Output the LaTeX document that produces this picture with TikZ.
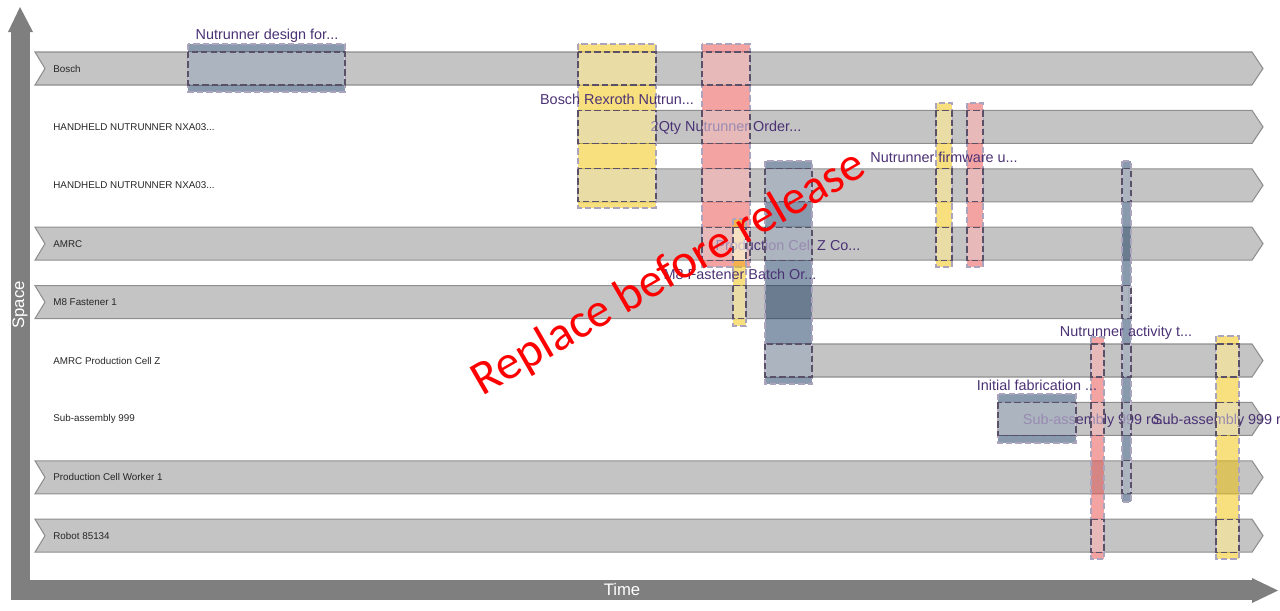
\documentclass[tikz,border=0pt]{standalone}
\usepackage{fontspec}
\setmainfont{Liberation Sans}
\newfontfamily\markfont{Carlito}
\usepackage{xcolor}
\usepackage{tikz}
\usetikzlibrary{positioning}
\definecolor{laneFill}{HTML}{C4C4C4}
\definecolor{laneEdge}{HTML}{8E8E8E}
\definecolor{axisGrey}{HTML}{7F7F7F}
\definecolor{evBlue}{HTML}{15355D}
\definecolor{evYellow}{HTML}{F3C100}
\definecolor{evRed}{HTML}{E94747}
\definecolor{evText}{HTML}{4B3275}
\definecolor{segDash}{HTML}{5A5068}
\definecolor{boxDash}{HTML}{ACA4BC}
\tikzset{
  laneBar/.style={
    fill=laneFill, draw=laneEdge, line width=0.6pt,
  },
  laneLabel/.style={
    anchor=west, inner sep=0pt, text=black!85,
    font=\fontsize{5.6}{6}\selectfont,
  },
  eventBox/.style={
    fill=#1, fill opacity=0.5, draw=boxDash, line width=0.7pt,
    dash pattern=on 3.6pt off 1.8pt,
  },
  laneSeg/.style={
    fill=white, fill opacity=0.43, draw=segDash, line width=0.7pt,
    dash pattern=on 3.6pt off 1.8pt,
  },
  eventLabel/.style={
    inner sep=0pt, text=evText, font=\fontsize{8.2}{9}\selectfont,
  },
  axisLabel/.style={
    inner sep=0pt, text=white, font=\fontsize{9.5}{10}\selectfont,
  },
}
% x1, x2, y1, y2, colour
\newcommand{\evBox}[5]{\draw[eventBox=#5] (#1,#3) rectangle (#2,#4);}
% x1, x2, lane
\newcommand{\evSeg}[3]{\draw[laneSeg] (#1,{52+58.4*#3}) rectangle (#2,{85+58.4*#3});}
\newcommand{\handheldName}{HANDHELD NUTRUNNER NXA03...}

\begin{document}
\begin{tikzpicture}[x=0.02cm, y=-0.02cm]
\useasboundingbox (0,0) rectangle (1280,610);

% axes
\fill[axisGrey] (11,30) rectangle (30,600);
\fill[axisGrey] (8,32) -- (20,7) -- (33,32) -- cycle;
\fill[axisGrey] (11,580) rectangle (1252,600);
\fill[axisGrey] (1252,578) -- (1278,590.5) -- (1252,603) -- cycle;
\node[axisLabel, rotate=90] (spaceLbl) at (20,305) {Space};
\node[axisLabel] (timeLbl) at (622,590) {Time};

% lanes: lane / start / end / notch / tip
\foreach \i/\xs/\xe/\notch/\tip in {0/35/1252/10/11, 1/578/1252/0/11,
    2/578/1252/0/11, 3/35/1252/10/11, 4/35/1129/10/0, 5/765/1252/0/11,
    6/998/1252/0/11, 7/35/1252/10/11, 8/35/1252/10/11} {
  \pgfmathsetmacro{\yt}{52+58.4*\i}
  \pgfmathsetmacro{\yb}{\yt+33}
  \pgfmathsetmacro{\ym}{\yt+16.5}
  \draw[laneBar] (\xs,\yt) -- (\xe,\yt) -- (\xe+\tip,\ym) -- (\xe,\yb)
    -- (\xs,\yb) -- (\xs+\notch,\ym) -- cycle;
}
\foreach \i/\txt in {0/Bosch, 1/\handheldName, 2/\handheldName, 3/AMRC,
    4/M8 Fastener 1, 5/AMRC Production Cell Z, 6/Sub-assembly 999,
    7/Production Cell Worker 1, 8/Robot 85134}
  \node[laneLabel] (lane\i) at (53,{68.5+58.4*\i}) {\txt};

% events
\evBox{188}{345}{44}{92}{evBlue}
\evBox{578}{656}{44}{208}{evYellow}
\evBox{702}{750}{44}{267}{evRed}
\evBox{765}{812}{161}{384}{evBlue}
\evBox{733}{746}{219}{326}{evYellow}
\evBox{936}{952}{103}{267}{evYellow}
\evBox{967}{983}{103}{267}{evRed}
\evBox{1122}{1131}{161}{502}{evBlue}
\evBox{1091}{1104}{337}{559}{evRed}
\evBox{998}{1076}{394}{443}{evBlue}
\evBox{1216}{1239}{336}{559}{evYellow}

\node[eventLabel] (evDesign) at (267,36) {Nutrunner design for...};
\node[eventLabel] (evRexroth) at (617,99) {Bosch Rexroth Nutrun...};
\node[eventLabel] (evOrder) at (726,128) {2Qty Nutrunner Order...};
\node[eventLabel] (evFirmware) at (944,157) {Nutrunner firmware u...};
\node[eventLabel] (evCell) at (788,245) {Production Cell Z Co...};
\node[eventLabel] (evBatch) at (740,274) {M8 Fastener Batch Or...};
\node[eventLabel] (evActivity) at (1126,333) {Nutrunner activity t...};
\node[eventLabel] (evFab) at (1037,385) {Initial fabrication ...};
\node[eventLabel] (evSubA) at (1097,421) {Sub-assembly 999 ro...};
\node[eventLabel] (evSubB) at (1227,421) {Sub-assembly 999 ro...};

% lane segments inside events
\evSeg{188}{345}{0}
\foreach \r in {0,1,2} {\evSeg{578}{656}{\r}}
\foreach \r in {0,1,2,3} {\evSeg{702}{750}{\r}}
\foreach \r in {2,3,5} {\evSeg{765}{812}{\r}}
\foreach \r in {3,4} {\evSeg{733}{746}{\r}}
\foreach \r in {1,2,3} {\evSeg{936}{952}{\r}}
\foreach \r in {1,2,3} {\evSeg{967}{983}{\r}}
\foreach \r in {2,4,5,6,7} {\evSeg{1122}{1131}{\r}}
\foreach \r in {5,6,8} {\evSeg{1091}{1104}{\r}}
\evSeg{998}{1076}{6}
\foreach \r in {5,6,8} {\evSeg{1216}{1239}{\r}}

% watermark
\node[rotate=30, inner sep=0pt, text=red,
  font=\markfont\fontsize{27.5}{30}\selectfont] (watermark) at (669,274)
  {Replace before release};
\end{tikzpicture}
\end{document}
